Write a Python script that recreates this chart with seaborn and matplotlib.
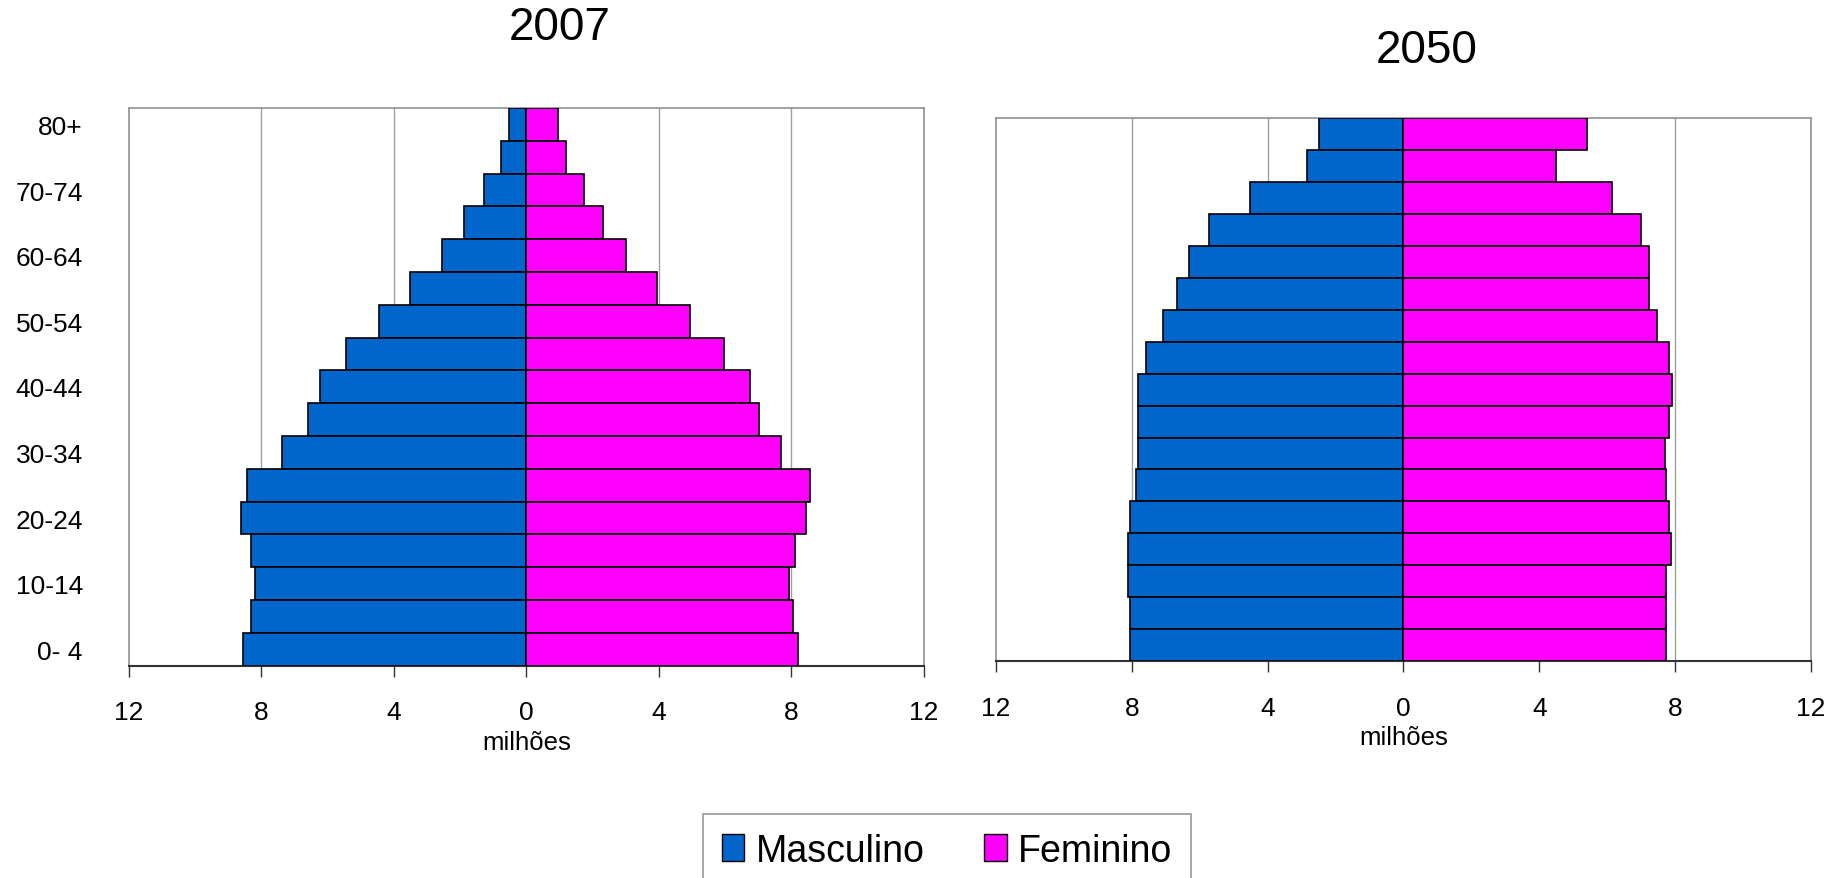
import numpy as np
import matplotlib
matplotlib.use('Agg')
import matplotlib.pyplot as plt
import seaborn as sns
import pandas as pd
from matplotlib.patches import Patch

sns.set_style('white')
plt.rcParams['font.family'] = ['Liberation Sans', 'DejaVu Sans']
plt.rcParams['text.color'] = 'black'
plt.rcParams['xtick.color'] = 'black'
plt.rcParams['ytick.color'] = 'black'
plt.rcParams['axes.labelcolor'] = 'black'

# faixas etárias, de cima (80+) para baixo (0- 4)
idades = ['80+', '75-79', '70-74', '65-69', '60-64', '55-59', '50-54', '45-49', '40-44',
          '35-39', '30-34', '25-29', '20-24', '15-19', '10-14', '5-9', '0- 4']

# milhões de pessoas
masc_2007 = [0.53, 0.76, 1.29, 1.88, 2.54, 3.50, 4.44, 5.45, 6.23,
             6.59, 7.36, 8.44, 8.61, 8.32, 8.19, 8.32, 8.55]
fem_2007 = [0.96, 1.20, 1.74, 2.32, 3.01, 3.95, 4.95, 5.98, 6.74,
            7.03, 7.68, 8.57, 8.44, 8.12, 7.92, 8.04, 8.21]
masc_2050 = [2.49, 2.83, 4.53, 5.73, 6.31, 6.66, 7.07, 7.59, 7.83,
             7.83, 7.83, 7.87, 8.06, 8.12, 8.12, 8.06, 8.06]
fem_2050 = [5.39, 4.50, 6.13, 7.00, 7.22, 7.22, 7.46, 7.81, 7.92,
            7.81, 7.69, 7.74, 7.81, 7.87, 7.74, 7.74, 7.74]

ticks_x = [-12, -8, -4, 0, 4, 8, 12]
cores = {'Masculino': '#0066CC', 'Feminino': '#FF00FF'}


def monta(masc, fem):
    df_m = pd.DataFrame({'idade': idades, 'valor': -np.array(masc), 'sexo': 'Masculino'})
    df_f = pd.DataFrame({'idade': idades, 'valor': np.array(fem), 'sexo': 'Feminino'})
    return pd.concat([df_m, df_f], ignore_index=True)


fig = plt.figure(figsize=(18.38, 8.79), dpi=100)
ax1 = fig.add_axes([0.0700, 0.2415, 0.4327, 0.6345])
ax2 = fig.add_axes([0.5419, 0.2469, 0.4434, 0.6174])

for ax, masc, fem in [(ax1, masc_2007, fem_2007), (ax2, masc_2050, fem_2050)]:
    df = monta(masc, fem)
    sns.barplot(data=df, x='valor', y='idade', hue='sexo', order=idades,
                hue_order=['Masculino', 'Feminino'], palette=cores, orient='h',
                dodge=False, width=1.0, saturation=1, edgecolor='black', linewidth=1.2,
                legend=False, ax=ax, zorder=3)
    ax.set_xlim(-12, 12)
    ax.set_ylim(len(idades) - 0.5, -0.5)
    ax.set_xticks(ticks_x)
    ax.set_xticklabels([str(abs(t)) for t in ticks_x])
    for t in [-8, -4, 4, 8]:
        ax.axvline(t, color='#a0a0a0', lw=1, zorder=1)
    for s in ['left', 'right', 'top']:
        ax.spines[s].set_color('#909090')
        ax.spines[s].set_linewidth(1.2)
    ax.spines['bottom'].set_color('#333333')
    ax.spines['bottom'].set_linewidth(1.5)
    ax.tick_params(axis='x', direction='out', length=8, width=1, color='#333333',
                   labelsize=19, pad=17, bottom=True)
    ax.tick_params(axis='y', length=0)
    ax.set_xlabel('milhões', fontsize=18.5, labelpad=4)
    ax.set_ylabel('')

ax1.set_yticks(range(len(idades)))
ax1.set_yticklabels([lab if i % 2 == 0 else '' for i, lab in enumerate(idades)])
ax1.tick_params(axis='y', labelsize=19, pad=33)
ax2.set_yticks([])

fig.text(0.3047, 0.9676, '2007', fontsize=33, ha='center', va='center')
fig.text(0.7762, 0.942, '2050', fontsize=33, ha='center', va='center')

# legenda
alcas = [Patch(facecolor=cores[k], edgecolor='black', linewidth=1) for k in ['Masculino', 'Feminino']]
leg = fig.legend(alcas, ['Masculino', 'Feminino'], loc='upper center', ncol=2,
                 bbox_to_anchor=(0.5153, 0.0728), fontsize=27, frameon=True, fancybox=False,
                 handlelength=0.6, handleheight=0.75, handletextpad=0.3, columnspacing=1.6,
                 borderpad=0.5, borderaxespad=0)
leg.get_frame().set_edgecolor('#808080')
leg.get_frame().set_linewidth(1.2)

fig.savefig('out.png', dpi=100)
